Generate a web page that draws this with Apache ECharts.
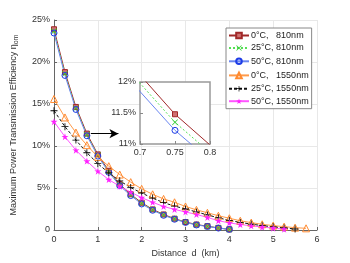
<!DOCTYPE html>
<html>
<head>
<meta charset="utf-8">
<script src="https://cdn.jsdelivr.net/npm/echarts@6/dist/echarts.min.js"></script>
<style>html,body{margin:0;padding:0;background:#fff}#c{width:350px;height:263px}</style>
</head>
<body>
<div id="c"></div>
<script>
var dist810 = [0,0.25,0.5,0.75,1,1.25,1.5,1.75,2,2.25,2.5,2.75,3,3.25,3.5,3.75,4];
var dist1550a = [0,0.25,0.5,0.75,1,1.25,1.5,1.75,2,2.25,2.5,2.75,3,3.25,3.5,3.75,4,4.25,4.5,4.75,5,5.25,5.5,5.75];
var dist1550b = [0,0.25,0.5,0.75,1,1.25,1.5,1.75,2,2.25,2.5,2.75,3,3.25,3.5,3.75,4,4.25,4.5,4.75,5,5.25,5.5];
var dist1550c = [0,0.25,0.5,0.75,1,1.25,1.5,1.75,2,2.25,2.5,2.75,3,3.25,3.5,3.75,4,4.25,4.5,4.75,5,5.25];

var eff0_810  = [23.9,18.8,14.65,11.48,9.0,7.05,5.45,4.25,3.25,2.45,1.85,1.35,0.95,0.65,0.45,0.25,0.08];
var eff25_810 = [23.65,18.6,14.5,11.35,8.9,6.95,5.35,4.17,3.17,2.4,1.8,1.32,0.92,0.62,0.43,0.24,0.07];
var eff50_810 = [23.45,18.4,14.35,11.22,8.8,6.87,5.27,4.1,3.1,2.35,1.75,1.28,0.9,0.6,0.42,0.23,0.07];
var eff0_1550  = [15.6,13.4,11.6,10.1,8.7,7.6,6.6,5.7,4.9,4.25,3.7,3.3,2.8,2.4,2.05,1.7,1.4,1.1,0.88,0.68,0.52,0.4,0.28,0.2];
var eff25_1550 = [14.2,12.3,10.7,9.2,7.9,6.8,5.85,5.05,4.4,3.8,3.25,2.85,2.5,2.15,1.8,1.45,1.15,0.9,0.7,0.52,0.38,0.24,0.12];
var eff50_1550 = [12.9,11.1,9.5,8.2,7.0,6.0,5.2,4.5,3.85,3.3,2.8,2.45,2.15,1.85,1.5,1.1,0.85,0.65,0.5,0.35,0.22,0.1];

var names = ['0°C,   810nm','25°C, 810nm','50°C, 810nm','0°C,   1550nm','25°C, 1550nm','50°C, 1550nm'];
var xTicks = [0,1,2,3,4,5,6];
var arrowStart = [0.84, 11.47];
var arrowEnd = [1.47, 11.47];

function pairs(xs, ys){ return xs.map(function(x,i){ return [x, ys[i]]; }); }

var plusPath = 'path://M-0.6,-5H0.6V-0.6H5V0.6H0.6V5H-0.6V0.6H-5V-0.6H-0.6Z';
var xPath = 'path://M-4.2,-3.4L-3.4,-4.2L0,-0.8L3.4,-4.2L4.2,-3.4L0.8,0L4.2,3.4L3.4,4.2L0,0.8L-3.4,4.2L-4.2,3.4L-0.8,0Z';
var starPath = 'path://M0,-100L22.3,-30.7L95.1,-30.9L36.1,11.7L58.8,80.9L0,38L-58.8,80.9L-36.1,11.7L-95.1,-30.9L-22.3,-30.7Z';

var styles = [
  {color:'#A02828', lineType:'solid', symbol:'rect', size:5, fill:'#D07070', border:'#A02828'},
  {color:'#55E055', lineType:[2,2], symbol:xPath, size:6, fill:'#33CC33', border:'#33CC33'},
  {color:'#6A86F0', lineType:'solid', symbol:'circle', size:6, fill:'none', border:'#1E3CE6'},
  {color:'#FF9A4A', lineType:'solid', symbol:'triangle', size:7, fill:'none', border:'#FF8A30'},
  {color:'#111111', lineType:[3,2], symbol:plusPath, size:7, fill:'#000000', border:'#000000'},
  {color:'#FF55FF', lineType:'solid', symbol:starPath, size:7, fill:'#FF22FF', border:'#FF22FF'}
];
var datasets = [
  pairs(dist810, eff0_810), pairs(dist810, eff25_810), pairs(dist810, eff50_810),
  pairs(dist1550a, eff0_1550), pairs(dist1550b, eff25_1550), pairs(dist1550c, eff50_1550)
];

function mkSeries(i, grid){
  var s = styles[i];
  return {
    type:'line', name:names[i], data:datasets[i],
    xAxisIndex:grid, yAxisIndex:grid,
    color:s.color,
    symbol:s.symbol, symbolSize:s.size,
    showSymbol:true, clip:true, animation:false,
    lineStyle:{color:s.color, width:1, type:s.lineType},
    itemStyle:{color:s.fill, borderColor:s.border, borderWidth:(s.fill==='none'||s.symbol==='rect')?1:0},
    emphasis:{disabled:true},
    z: grid===1 ? 6 : 2
  };
}

var series = [];
for (var i=0;i<6;i++) series.push(mkSeries(i,0));
for (var j=0;j<3;j++) series.push(mkSeries(j,1));
series[0].markLine = {
  silent:true, symbol:['none','arrow'], symbolSize:[7,9],
  lineStyle:{color:'#000', width:1, type:'solid'},
  label:{show:false},
  data:[[{coord:arrowStart},{coord:arrowEnd}]]
};

var labelColor = '#333';
var option = {
  backgroundColor:'#fff',
  animation:false,
  textStyle:{fontFamily:'Liberation Sans, Arial, sans-serif'},
  grid:[
    {left:45, top:20, width:272, height:214, containLabel:false},
    {left:140, top:82, width:70, height:62, show:true, backgroundColor:'#fff', borderColor:'#999', borderWidth:1.5, z:4}
  ],
  legend:{
    orient:'vertical', left:226, top:28,
    data:names,
    backgroundColor:'#fff', borderColor:'#888', borderWidth:1,
    padding:[3,3,3,2], itemGap:3.5, itemWidth:20, itemHeight:7,
    textStyle:{fontSize:9, color:'#222', fontFamily:'Liberation Sans, Arial, sans-serif', padding:[0,0,0,-3]},
    selectedMode:false, z:8
  },
  xAxis:[
    {type:'value', gridIndex:0, min:0, max:6, interval:1,
     name:'Distance  d  (km)', nameLocation:'middle', nameGap:19,
     nameTextStyle:{fontSize:9, color:labelColor},
     axisLine:{show:true, lineStyle:{color:'#666', width:1}},
     axisTick:{show:true, inside:true, length:3, lineStyle:{color:'#666'}},
     axisLabel:{fontSize:9, color:labelColor, margin:5},
     splitLine:{show:true, lineStyle:{color:'#E8E8E8', width:1}}},
    {type:'value', gridIndex:1, min:0.7, max:0.8, interval:0.05,
     axisLine:{show:false}, z:5,
     axisTick:{show:true, inside:true, length:3, lineStyle:{color:'#888'}},
     axisLabel:{fontSize:9, color:labelColor, margin:4, formatter:function(v){return String(+v.toFixed(2));}},
     splitLine:{show:false}}
  ],
  yAxis:[
    {type:'value', gridIndex:0, min:0, max:25, interval:5,
     name:'Maximum Power Transmission Efficiency η{sub|om}', nameLocation:'middle', nameGap:34,
     nameTextStyle:{fontSize:9, color:labelColor, lineHeight:12, rich:{sub:{fontSize:7, color:labelColor, lineHeight:6, verticalAlign:'bottom'}}},
     axisLine:{show:true, lineStyle:{color:'#666', width:1}},
     axisTick:{show:true, inside:true, length:3, lineStyle:{color:'#666'}},
     axisLabel:{fontSize:9, color:labelColor, margin:4, formatter:function(v){return v===0?'0':v+'%';}},
     splitLine:{show:true, lineStyle:{color:'#E8E8E8', width:1}}},
    {type:'value', gridIndex:1, min:11, max:12, interval:0.5,
     axisLine:{show:false}, z:5,
     axisTick:{show:true, inside:true, length:3, lineStyle:{color:'#888'}},
     axisLabel:{fontSize:9, color:labelColor, margin:4, formatter:function(v){return (+v.toFixed(1))+'%';}},
     splitLine:{show:false}}
  ],
  series:series
};
var chart = echarts.init(document.getElementById('c'), null, {renderer:'canvas'});
chart.setOption(option);
</script>
</body>
</html>
